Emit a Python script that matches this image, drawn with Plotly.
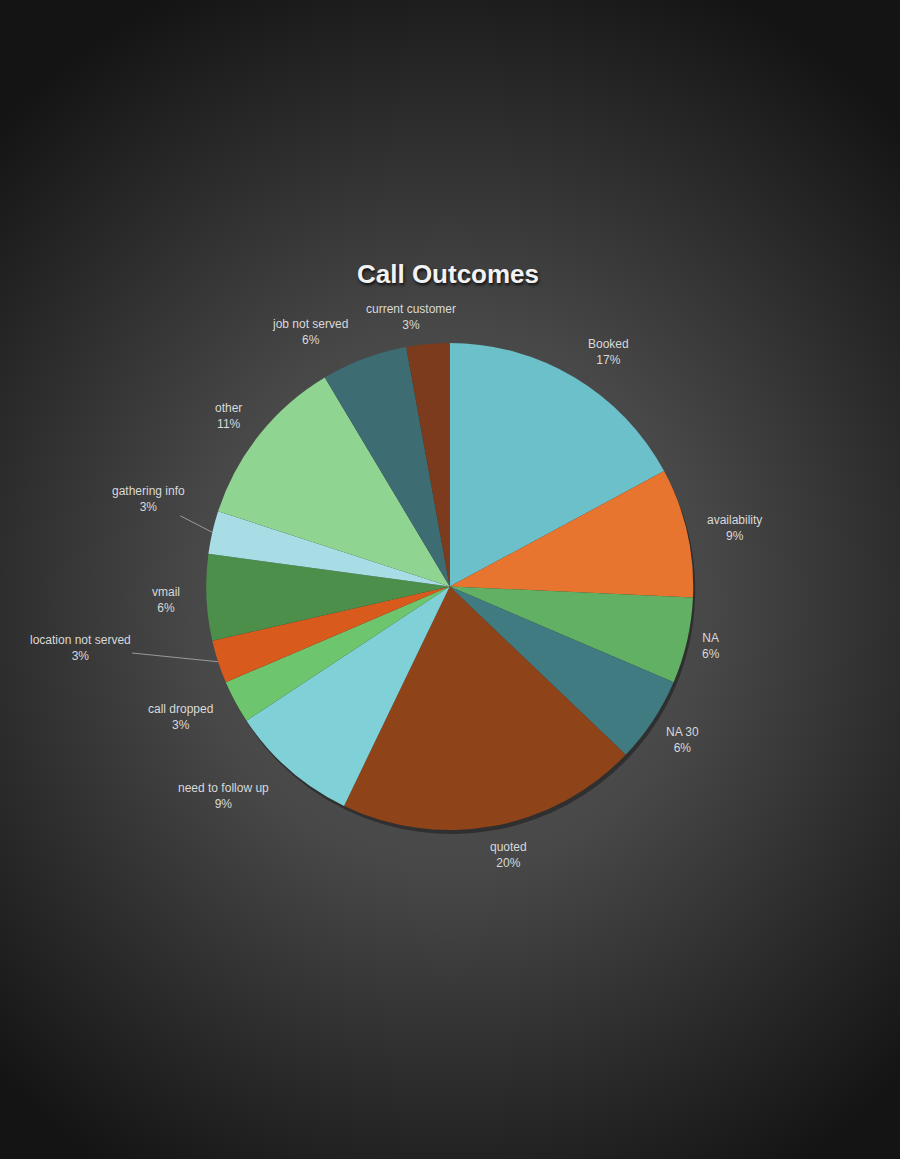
import math
import base64
import plotly.graph_objects as go

# ---- data ----
categories = ["Booked", "availability", "NA", "NA 30", "quoted", "need to follow up",
              "call dropped", "location not served", "vmail", "gathering info",
              "other", "job not served", "current customer"]
counts = [6, 3, 2, 2, 7, 3, 1, 1, 2, 1, 4, 2, 1]
colors = ["#6cc0ca", "#e8752f", "#62b063", "#3f7b80", "#8e4319", "#80d0d8",
          "#6dc66d", "#d85a1c", "#4b8f4b", "#a9dde5", "#8fd491", "#3d6c72", "#7b3b1c"]
title_text = "Call Outcomes"

# ---- layout geometry (pixels) ----
W, H = 900, 1159
CX, CY, R = 449.7, 586.5, 243.5
LABEL_GAP = 15
CHAR_W, LINE_H = 6.0, 15.0
# labels with leader lines: text offset (px) from slice edge point
leader = {"gathering info": (-64, -33), "location not served": (-138, -14)}
# small best-fit nudges (px) applied to computed label positions
nudge = {"job not served": (-39, 14), "current customer": (-14, 7), "Booked": (15, 6),
         "need to follow up": (-27, -19), "quoted": (9, -4), "call dropped": (-7, -10),
         "vmail": (-10, 1), "availability": (-5, 8), "other": (-3, 4)}

dom_x = [(CX - R) / W, (CX + R) / W]
dom_y = [1 - (CY + R) / H, 1 - (CY - R) / H]
SH_DX, SH_DY = 2, 4
sh_x = [(CX - R + SH_DX) / W, (CX + R + SH_DX) / W]
sh_y = [1 - (CY + R + SH_DY) / H, 1 - (CY - R + SH_DY) / H]

fig = go.Figure()
# soft drop shadow under the pie
fig.add_trace(go.Pie(
    labels=categories, values=counts, sort=False, direction="clockwise", rotation=0,
    marker=dict(colors=["rgba(0,0,0,0.35)"] * len(counts), line=dict(width=0)),
    textinfo="none", hoverinfo="skip", showlegend=False,
    domain=dict(x=sh_x, y=sh_y),
))
fig.add_trace(go.Pie(
    labels=categories, values=counts, sort=False, direction="clockwise", rotation=0,
    marker=dict(colors=colors, line=dict(width=0)),
    textinfo="none", hoverinfo="label+percent", showlegend=False,
    domain=dict(x=dom_x, y=dom_y),
))

# background radial gradient
svg = f'''<svg xmlns="http://www.w3.org/2000/svg" width="{W}" height="{H}" viewBox="0 0 {W} {H}">
<defs><radialGradient id="g" gradientUnits="userSpaceOnUse" cx="450" cy="600" r="640"
 gradientTransform="translate(450 600) scale(1 1.05) translate(-450 -600)">
<stop offset="0" stop-color="#555555"/>
<stop offset="0.4" stop-color="#484848"/>
<stop offset="0.72" stop-color="#2c2c2c"/>
<stop offset="1" stop-color="#141414"/>
</radialGradient></defs>
<rect width="{W}" height="{H}" fill="url(#g)"/></svg>'''
bg = "data:image/svg+xml;base64," + base64.b64encode(svg.encode()).decode()

total = sum(counts)
annotations = []
cum = 0
font = dict(family="Liberation Sans, Arial", size=12, color="#d9d9d9")
for lab, v in zip(categories, counts):
    mid = (cum + v / 2) / total * 2 * math.pi
    cum += v
    pct = f"{round(100 * v / total)}%"
    text = f"{lab}<br>{pct}"
    s, c = math.sin(mid), math.cos(mid)
    if lab in leader:
        ex, ey = CX + R * s, CY - R * c
        dx, dy = leader[lab]
        annotations.append(dict(
            x=ex / W, y=1 - ey / H, xref="paper", yref="paper", text=text,
            showarrow=True, arrowhead=0, arrowwidth=1, arrowcolor="#9a9a9a",
            ax=dx, ay=dy, standoff=0, startstandoff=0, font=font,
        ))
        continue
    w = CHAR_W * max(len(lab), len(pct))
    h = 2 * LINE_H
    rc = R + LABEL_GAP + 0.5 * abs(w * s) + 0.5 * abs(h * c)
    ndx, ndy = nudge.get(lab, (0, 0))
    px, py = CX + rc * s + ndx, CY - rc * c + ndy
    annotations.append(dict(
        x=px / W, y=1 - py / H, xref="paper", yref="paper", text=text,
        showarrow=False, xanchor="center", yanchor="middle", font=font,
    ))

fig.update_layout(
    width=W, height=H,
    margin=dict(l=0, r=0, t=0, b=0),
    paper_bgcolor="#2a2a2a", plot_bgcolor="#2a2a2a",
    title=dict(text=f"<b>{title_text}</b>", x=448 / W, xanchor="center",
               y=1 - 274 / H, yanchor="middle",
               font=dict(family="Liberation Sans, Arial", size=26, color="#f2f2f2",
                         shadow="1px 2px 3px rgba(0,0,0,0.8)")),
    images=[dict(source=bg, xref="paper", yref="paper", x=0, y=1, sizex=1, sizey=1,
                 xanchor="left", yanchor="top", sizing="stretch", layer="below")],
    annotations=annotations,
)

fig.write_html("out.html")
